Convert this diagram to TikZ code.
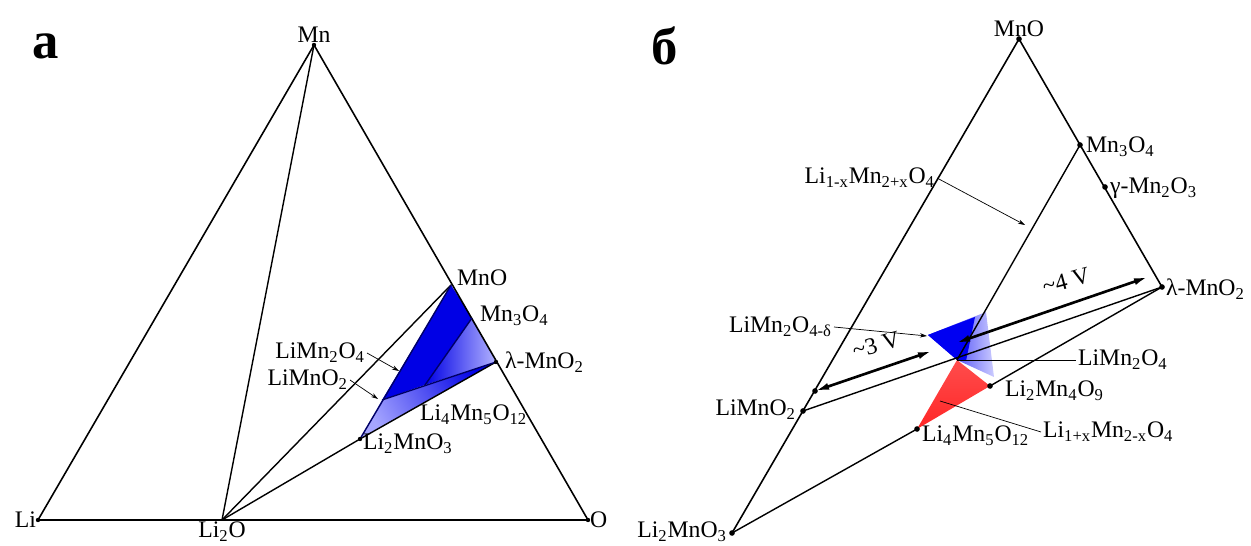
\documentclass[tikz,border=0pt]{standalone}
\usepackage{fontspec}
\setmainfont{Liberation Serif}
\usetikzlibrary{arrows.meta, positioning, calc}
\newcommand{\ssub}[1]{\textsubscript{#1}}

\begin{document}
\begin{tikzpicture}[
			x=0.02cm, y=-0.02cm,
			edge/.style={line width=0.9pt},
			tie/.style={line width=0.8pt},
			dot/.style={circle, fill=black, inner sep=0pt, minimum size=3.2pt},
			phase/.style={font=\fontsize{13.5}{15}\selectfont, inner sep=1pt},
			panel/.style={font=\fontsize{30}{34}\selectfont\bfseries},
			leader/.style={line width=0.4pt, -{Stealth[length=4pt, width=2.5pt]}},
			volt/.style={line width=1.5pt, {Latex[length=8pt, width=4pt]}-{Latex[length=8pt, width=4pt]}}
		]
		\useasboundingbox (0,0) rectangle (1251,546);
		
		% Panel a: points
		\coordinate (Li) at (38,520);
		\coordinate (Li2O) at (222,520);
		\coordinate (O) at (588,520);
		\coordinate (Mn) at (314,45);
		\coordinate (MnOa) at (451,285);
		\coordinate (Mn3O4a) at (472,318);
		\coordinate (lamMnO2a) at (496,362);
		\coordinate (Li2MnO3a) at (360,439);
		\coordinate (LiMnO2a) at (382,400);
		\coordinate (LiMn2O4a) at (425,385);
		
		% Panel a: spinel region
		\fill[blue!90!black] (MnOa) -- (Mn3O4a) -- (LiMn2O4a) -- (LiMnO2a) -- cycle;
		\shade[left color=blue!90!black, right color=blue!30] (Mn3O4a) -- (lamMnO2a) -- (LiMn2O4a) -- cycle;
		\shade[left color=blue!35, right color=blue!90!black, shading angle=120] (LiMnO2a) -- (LiMn2O4a) -- (lamMnO2a) -- (Li2MnO3a) -- cycle;
		
		% Panel a: lines
		\draw[edge] (Li) -- (Mn) -- (O) -- cycle;
		\draw[tie] (Li2O) -- (Mn);
		\draw[tie] (Li2O) -- (MnOa);
		\draw[tie] (Li2O) -- (Li2MnO3a) -- (lamMnO2a);
		\draw[tie, blue!40!black] (MnOa) -- (Li2MnO3a);
		\draw[tie, blue!40!black] (Mn3O4a) -- (LiMn2O4a);
		\draw[tie, blue!40!black] (LiMnO2a) -- (lamMnO2a);
		\foreach \p in {Li, O, Mn, Li2MnO3a, lamMnO2a}
			\node[dot, minimum size=2.5pt] at (\p) {};
		
		% Panel a: labels
		\node[panel] (tagA) at (46,46) {а};
		\node[phase, above=0pt of Mn] (lblMn) {Mn};
		\node[phase, left=0pt of Li] (lblLi) {Li};
		\node[phase, below=0pt of Li2O] (lblLi2O) {Li\ssub{2}O};
		\node[phase, right=0pt of O] (lblO) {O};
		\node[phase, anchor=west] (lblMnOa) at (455,278) {MnO};
		\node[phase, anchor=west] (lblMn3O4a) at (478,316) {Mn\ssub{3}O\ssub{4}};
		\node[phase, anchor=west] (lblLamA) at (503,362) {λ-MnO\ssub{2}};
		\node[phase, anchor=west] (lblLi4a) at (418,415) {Li\ssub{4}Mn\ssub{5}O\ssub{12}};
		\node[phase, anchor=west] (lblLi2MnO3a) at (361,444) {Li\ssub{2}MnO\ssub{3}};
		\node[phase, anchor=east] (lblLiMn2O4a) at (367,353) {LiMn\ssub{2}O\ssub{4}};
		\node[phase, anchor=east] (lblLiMnO2a) at (350,380) {LiMnO\ssub{2}};
		\coordinate (tipLiMn2O4a) at (399,371);
		\coordinate (tipLiMnO2a) at (378,399);
		\draw[leader] (lblLiMn2O4a.east) -- (tipLiMn2O4a);
		\draw[leader] (lblLiMnO2a.east) -- (tipLiMnO2a);
		
		% Panel b: points
		\coordinate (MnOb) at (1019,39);
		\coordinate (Mn3O4b) at (1080,145);
		\coordinate (gMn2O3) at (1105,187);
		\coordinate (lamMnO2b) at (1162,287);
		\coordinate (Li2MnO3b) at (732,533);
		\coordinate (LiMnO2b) at (803,411);
		\coordinate (Li4Mn5O12b) at (917,429);
		\coordinate (Li2Mn4O9) at (990,386);
		\coordinate (LiMn2O4b) at (957,360);
		
		% Panel b: spinel regions
		\shade[left color=blue!95!black, right color=blue!20] (928,335) -- (986,312) -- (994,377) -- (LiMn2O4b) -- cycle;
		\fill[blue!95!black] (928,335) -- (975,317) -- (966,361) -- (LiMn2O4b) -- cycle;
		\shade[top color=red!70, bottom color=red!85] (LiMn2O4b) -- (Li2Mn4O9) -- (Li4Mn5O12b) -- cycle;
		
		% Panel b: lines
		\draw[edge] (Li2MnO3b) -- (MnOb) -- (lamMnO2b);
		\draw[tie] (Mn3O4b) -- (LiMn2O4b);
		\draw[tie] (LiMnO2b) -- (lamMnO2b);
		\draw[tie] (Li2Mn4O9) -- (lamMnO2b);
		\draw[tie] (Li2MnO3b) -- (Li4Mn5O12b);
		\foreach \p in {MnOb, Mn3O4b, gMn2O3, lamMnO2b, Li2MnO3b, LiMnO2b, Li4Mn5O12b, Li2Mn4O9}
			\node[dot] at (\p) {};
		
		% Panel b: voltage arrows
		\coordinate (v3a) at (815,391);
		\coordinate (v3b) at (932,351);
		\coordinate (v4a) at (956,343);
		\coordinate (v4b) at (1148,277);
		\draw[volt] (v3a) -- (v3b);
		\draw[volt] (v4a) -- (v4b);
		\node[dot] at (v3a) {};
		\node[phase, inner sep=0pt, rotate=15] (lbl3V) at (876,345) {\textasciitilde3 V};
		\node[phase, inner sep=0pt, rotate=15] (lbl4V) at (1066,281) {\textasciitilde4 V};
		
		% Panel b: labels
		\node[panel] (tagB) at (665,46) {б};
		\node[phase, above=0pt of MnOb] (lblMnOb) {MnO};
		\node[phase, anchor=west] (lblMn3O4b) at (1084,147) {Mn\ssub{3}O\ssub{4}};
		\node[phase, anchor=west] (lblgMn2O3) at (1108,188) {γ-Mn\ssub{2}O\ssub{3}};
		\node[phase, anchor=west] (lblLamB) at (1164,289) {λ-MnO\ssub{2}};
		\node[phase, anchor=east] (lblLiMnO2b) at (798,410) {LiMnO\ssub{2}};
		\node[phase, anchor=east] (lblLi2MnO3b) at (729,532) {Li\ssub{2}MnO\ssub{3}};
		\node[phase, anchor=west] (lblLi4b) at (920,436) {Li\ssub{4}Mn\ssub{5}O\ssub{12}};
		\node[phase, anchor=west] (lblLi2Mn4O9) at (1003,391) {Li\ssub{2}Mn\ssub{4}O\ssub{9}};
		\node[phase, anchor=west] (lblLiMn2O4b) at (1076,360) {LiMn\ssub{2}O\ssub{4}};
		\node[phase, anchor=west] (lblLiPlus) at (1041,432) {Li\ssub{1+x}Mn\ssub{2-x}O\ssub{4}};
		\node[phase, anchor=east] (lblLiMinus) at (937,178) {Li\ssub{1-x}Mn\ssub{2+x}O\ssub{4}};
		\node[phase, anchor=east] (lblDelta) at (834,327) {LiMn\ssub{2}O\ssub{4-δ}};
		
		% Panel b: leaders
		\coordinate (tipMinus) at (1025,225);
		\coordinate (tipDelta) at (927,336);
		\coordinate (startPlus) at (940,401);
		\draw[leader] (lblLiMinus.east) -- (tipMinus);
		\draw[leader] (lblDelta.east) -- (tipDelta);
		\draw[line width=0.4pt] (LiMn2O4b) -- (lblLiMn2O4b.west);
		\draw[line width=0.4pt] (startPlus) -- (lblLiPlus.west);
		\end{tikzpicture}
\end{document}
